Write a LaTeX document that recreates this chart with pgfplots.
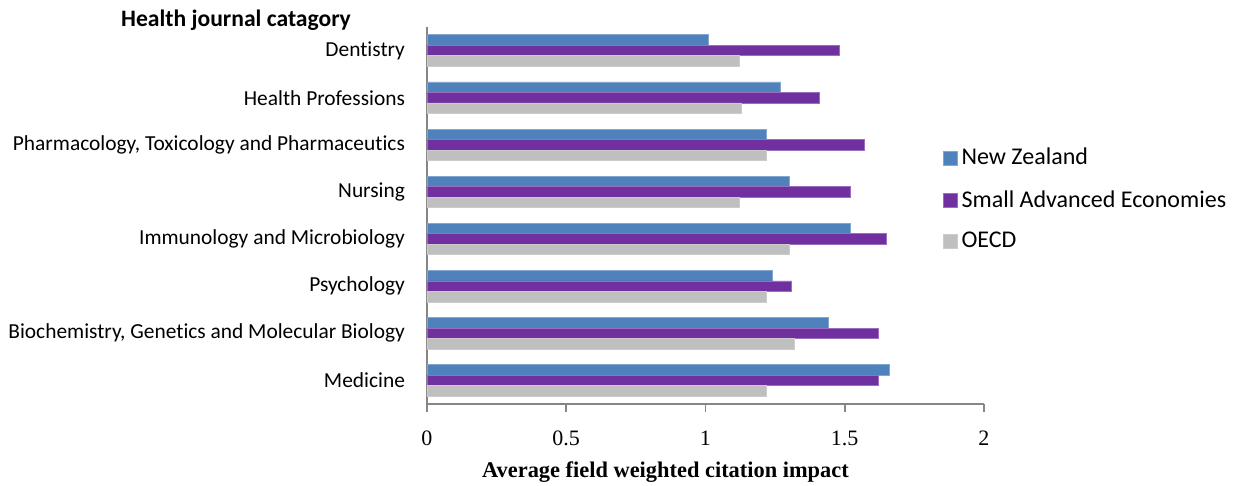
\documentclass[border=0pt]{standalone}
\usepackage{pgfplots}
\pgfplotsset{compat=1.18}
\usepackage{fontspec}
\setmainfont{Carlito}[Ligatures=NoCommon]
\newfontfamily\serif{Liberation Serif}
\definecolor{nz}{HTML}{4F81BD}
\definecolor{sae}{HTML}{7030A0}
\definecolor{oecd}{HTML}{BFBFBF}
\definecolor{axisgrey}{HTML}{868686}
\begin{document}
\begin{tikzpicture}
\useasboundingbox (0,0) rectangle (622pt,243pt);
\begin{axis}[
  at={(213.5pt,41pt)}, anchor=south west,
  scale only axis, width=278.5pt, height=188.5pt,
  xbar, bar width=5.25pt,
  xmin=0, xmax=2, ymin=-0.5, ymax=7.5,
  axis x line*=bottom, axis y line*=left,
  axis line style={axisgrey, line width=0.8pt},
  xtick={0,0.5,1,1.5,2},
  x tick label style={font=\serif\fontsize{11}{13}\selectfont, /pgf/number format/assume math mode=true, yshift=-6pt},
  xtick style={axisgrey, line width=0.8pt},
  tick align=outside, major tick length=4pt,
  ytick={0,...,7},
  yticklabels={Medicine, {Biochemistry, Genetics and Molecular Biology}, Psychology, Immunology and Microbiology, Nursing, {Pharmacology, Toxicology and Pharmaceutics}, Health Professions, Dentistry},
  y tick style={draw=none},
  minor ytick={-0.5,0.5,...,7.5},
  minor y tick style={axisgrey, line width=0.8pt},
  minor tick length=4.5pt,
  y tick label style={font=\fontsize{10.7}{12.8}\selectfont, xshift=-3.5pt},
  xlabel={Average field weighted citation impact},
  xlabel style={font=\serif\bfseries\fontsize{11.2}{13}\selectfont, yshift=-1pt, xshift=-20pt},
  legend style={draw=none, at={(0.926,0.69)}, anchor=north west, inner sep=0pt,
    font=\fontsize{12}{14}\selectfont, row sep=7.2pt},
  legend cell align=left,
  legend image code/.code={\fill[#1] (0pt,-3.4pt) rectangle (6.8pt,3.4pt);},
]
\addplot[fill=nz, draw=nz!70!white, bar shift=5.25pt] coordinates {
  (1.66,0) (1.44,1) (1.24,2) (1.52,3) (1.30,4) (1.22,5) (1.27,6) (1.01,7)};
\addplot[fill=sae, draw=sae!70!white, bar shift=0pt] coordinates {
  (1.62,0) (1.62,1) (1.31,2) (1.65,3) (1.52,4) (1.57,5) (1.41,6) (1.48,7)};
\addplot[fill=oecd, draw=oecd!80!white, bar shift=-5.25pt] coordinates {
  (1.22,0) (1.32,1) (1.22,2) (1.30,3) (1.12,4) (1.22,5) (1.13,6) (1.12,7)};
\legend{New Zealand, Small Advanced Economies, OECD}
\end{axis}
\node[font=\bfseries\fontsize{11.8}{14}\selectfont] at (118pt,233pt) {Health journal catagory};
\end{tikzpicture}
\end{document}
